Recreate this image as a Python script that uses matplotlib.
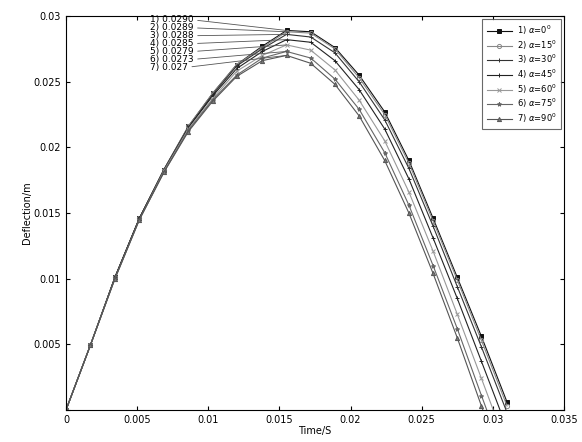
import matplotlib
matplotlib.use('Agg')
import matplotlib.pyplot as plt

# time steps (s)
time = [0.0, 0.00172, 0.00344, 0.00516, 0.00688, 0.0086, 0.0103, 0.0120, 0.0138,
        0.0155, 0.0172, 0.0189, 0.0206, 0.0224, 0.0241, 0.0258, 0.0275, 0.0292, 0.0310]

# deflection (m) for each angle
defl_1 = [0, .00495, .0101, .0146, .0183, .0216, .0241, .0263, .0277, .0289, .0288, .0276, .0255, .0227, .0190, .0146, .0101, .0056, .0006]
defl_2 = [0, .00495, .0101, .0146, .0183, .0216, .0241, .0263, .0276, .0288, .0287, .0275, .0253, .0225, .0188, .0144, .0099, .0053, .0003]
defl_3 = [0, .00495, .0101, .0146, .0183, .0215, .0240, .0262, .0275, .0286, .0284, .0272, .0250, .0221, .0184, .0140, .0094, .0048, -.0002]
defl_4 = [0, .00495, .0101, .0146, .0182, .0215, .0239, .0260, .0273, .0282, .0280, .0266, .0244, .0214, .0176, .0131, .0085, .0037, -.0014]
defl_5 = [0, .00495, .0100, .0145, .0182, .0214, .0237, .0258, .0270, .0278, .0274, .0259, .0236, .0205, .0166, .0121, .0073, .0024, -.0028]
defl_6 = [0, .00495, .0100, .0145, .0181, .0213, .0236, .0255, .0268, .0273, .0268, .0252, .0229, .0196, .0156, .0110, .0062, .0011, -.0042]
defl_7 = [0, .00495, .0100, .0145, .0181, .0212, .0235, .0254, .0266, .0270, .0264, .0248, .0224, .0190, .0150, .0104, .0055, .0003, -.0050]

series = [defl_1, defl_2, defl_3, defl_4, defl_5, defl_6, defl_7]
angles = [0, 15, 30, 45, 60, 75, 90]
peak_labels = ['1) 0.0290', '2) 0.0289', '3) 0.0288', '4) 0.0285',
               '5) 0.0279', '6) 0.0273', '7) 0.027']

markers = ['s', 'o', '+', '+', 'x', '*', '^']
colors = ['#111111', '#888888', '#333333', '#222222', '#999999', '#666666', '#555555']
fills = ['#111111', 'none', '#333333', '#222222', '#999999', '#666666', '#777777']

fig = plt.figure(figsize=(5.82, 4.42), dpi=100)
ax = fig.add_axes([0.1134, 0.0724, 0.8556, 0.8914])

for i, ys in enumerate(series):
    ax.plot(time, ys, color=colors[i], lw=0.8, marker=markers[i], ms=3,
            mfc=fills[i], mec=colors[i], mew=0.7,
            label=f'{i + 1}) $\\alpha$=%d$^0$' % angles[i])

# peak annotations
text_y = [0.0297, 0.0291, 0.0285, 0.0279, 0.0273, 0.0267, 0.0261]
for i, ys in enumerate(series):
    k = ys.index(max(ys))
    ax.annotate(peak_labels[i], xy=(time[k], ys[k]), xytext=(0.0059, text_y[i]),
                fontsize=6.5, va='center', ha='left',
                arrowprops=dict(arrowstyle='-', color='#555555', lw=0.6,
                                relpos=(1, 0.5), shrinkA=1, shrinkB=0))

ax.set_xlim(0, 0.035)
ax.set_ylim(0, 0.03)
ax.set_xticks([0, 0.005, 0.01, 0.015, 0.02, 0.025, 0.03, 0.035])
ax.set_xticklabels(['0', '0.005', '0.01', '0.015', '0.02', '0.025', '0.03', '0.035'])
ax.set_yticks([0, 0.005, 0.01, 0.015, 0.02, 0.025, 0.03])
ax.set_yticklabels(['', '0.005', '0.01', '0.015', '0.02', '0.025', '0.03'])
ax.tick_params(direction='in', labelsize=7, length=3, top=True, right=True)
ax.set_xlabel('Time/S', fontsize=7, labelpad=1)
ax.set_ylabel('Deflection/m', fontsize=7, labelpad=1)

leg = ax.legend(loc='upper right', fontsize=6, fancybox=False, edgecolor='#444444',
                handlelength=3.0, borderaxespad=0.4, labelspacing=0.15,
                borderpad=0.5, handletextpad=0.6)
leg.get_frame().set_linewidth(0.8)

fig.savefig('out.png', dpi=100)
